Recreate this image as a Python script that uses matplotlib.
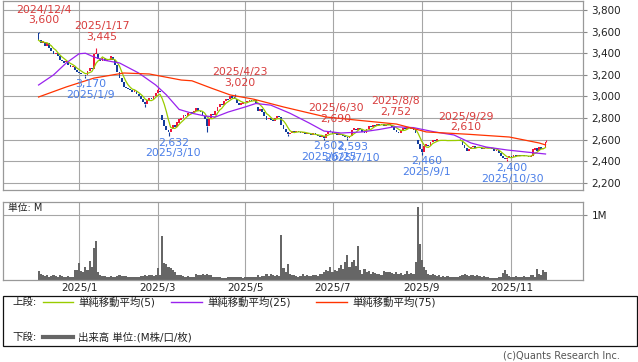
import matplotlib
matplotlib.use("Agg")
import matplotlib.pyplot as plt
from matplotlib.patches import Rectangle
from matplotlib.lines import Line2D
import numpy as np
import pandas as pd

plt.rcParams['font.family'] = ['DejaVu Sans', 'Noto Sans CJK JP']

# ---------------- data ----------------
start_date = "2024-12-04"
end_date = "2025-11-27"
holidays = ["2024-12-31", "2025-01-01", "2025-01-02", "2025-01-03", "2025-01-13",
            "2025-02-11", "2025-02-24", "2025-03-20", "2025-04-29", "2025-05-05",
            "2025-05-06", "2025-07-21", "2025-08-11", "2025-09-15", "2025-09-23",
            "2025-10-13", "2025-11-03", "2025-11-24"]

opens = [
    3590, 3520, 3490, 3500, 3470, 3490, 3450, 3420, 3390, 3400,
    3370, 3340, 3330, 3315, 3320, 3290, 3270, 3275, 3245, 3230,
    3220, 3205, 3200, 3195, 3240, 3260, 3250, 3390, 3395, 3350,
    3330, 3355, 3325, 3345, 3340, 3365, 3340, 3290, 3230, 3170,
    3130, 3090, 3080, 3070, 3060, 3040, 3055, 3020, 3000, 2980,
    2950, 2930, 2965, 2985, 2975, 3000, 3030, 3050, 2830, 2780,
    2730, 2690, 2670, 2700, 2735, 2720, 2755, 2785, 2800, 2830,
    2820, 2850, 2860, 2850, 2870, 2890, 2870, 2860, 2820, 2790,
    2730, 2790, 2840, 2830, 2870, 2900, 2930, 2920, 2955, 2980,
    2975, 3000, 2995, 2980, 2940, 2920, 2935, 2950, 2945, 2960,
    2970, 2960, 2965, 2900, 2870, 2880, 2860, 2820, 2790, 2800,
    2780, 2770, 2800, 2820, 2810, 2740, 2700, 2670, 2650, 2660,
    2680, 2670, 2685, 2670, 2660, 2670, 2655, 2660, 2650, 2645,
    2660, 2640, 2635, 2625, 2630, 2620, 2650, 2680, 2670, 2650,
    2660, 2645, 2655, 2640, 2630, 2625, 2615, 2630, 2690, 2700,
    2690, 2710, 2700, 2670, 2660, 2700, 2725, 2715, 2740, 2730,
    2740, 2735, 2745, 2730, 2740, 2735, 2740, 2720, 2690, 2670,
    2665, 2690, 2710, 2700, 2715, 2720, 2700, 2690, 2600, 2560,
    2510, 2490, 2540, 2555, 2545, 2580, 2600, 2590, 2600, 2585,
    2590, 2600, 2590, 2595, 2585, 2590, 2600, 2595, 2600, 2590,
    2550, 2520, 2500, 2510, 2530, 2540, 2525, 2535, 2520, 2510,
    2525, 2530, 2520, 2525, 2515, 2500, 2505, 2480, 2450, 2430,
    2420, 2430, 2445, 2440, 2455, 2445, 2460, 2450, 2455, 2445,
    2450, 2440, 2450, 2505, 2520, 2500, 2530, 2510, 2520]

closes = [
    3520, 3490, 3510, 3470, 3495, 3450, 3420, 3390, 3400, 3370,
    3340, 3330, 3310, 3325, 3290, 3270, 3280, 3245, 3230, 3220,
    3205, 3210, 3190, 3240, 3260, 3250, 3390, 3400, 3350, 3330,
    3360, 3325, 3350, 3340, 3370, 3340, 3290, 3230, 3170, 3130,
    3090, 3080, 3070, 3060, 3040, 3060, 3020, 3000, 2980, 2950,
    2930, 2970, 2985, 2975, 3000, 3030, 3060, 3040, 2780, 2730,
    2690, 2670, 2700, 2740, 2720, 2760, 2790, 2800, 2830, 2820,
    2850, 2860, 2850, 2870, 2890, 2870, 2860, 2820, 2790, 2730,
    2790, 2840, 2830, 2870, 2900, 2930, 2920, 2960, 2980, 2970,
    3000, 2990, 2980, 2940, 2920, 2940, 2950, 2945, 2960, 2970,
    2960, 2965, 2940, 2870, 2880, 2860, 2820, 2780, 2800, 2780,
    2770, 2800, 2820, 2810, 2740, 2700, 2670, 2650, 2660, 2680,
    2670, 2685, 2670, 2660, 2670, 2655, 2660, 2650, 2645, 2660,
    2640, 2635, 2625, 2640, 2620, 2650, 2680, 2670, 2650, 2660,
    2645, 2655, 2640, 2630, 2625, 2615, 2630, 2690, 2710, 2690,
    2710, 2700, 2670, 2660, 2700, 2730, 2715, 2740, 2730, 2745,
    2735, 2745, 2730, 2740, 2735, 2740, 2720, 2690, 2670, 2665,
    2690, 2710, 2700, 2715, 2720, 2700, 2690, 2660, 2560, 2510,
    2490, 2540, 2560, 2545, 2580, 2600, 2590, 2605, 2585, 2590,
    2600, 2590, 2595, 2585, 2590, 2600, 2595, 2600, 2590, 2550,
    2520, 2500, 2510, 2530, 2540, 2525, 2535, 2520, 2510, 2525,
    2530, 2520, 2525, 2515, 2500, 2505, 2480, 2450, 2430, 2420,
    2430, 2450, 2440, 2455, 2445, 2460, 2450, 2455, 2445, 2450,
    2440, 2450, 2510, 2520, 2500, 2530, 2510, 2520, 2580]

# wick extremes (index: price)
wick_highs = {0: 3600, 27: 3445, 56: 3080, 92: 3020, 137: 2690, 165: 2752,
              198: 2610, 238: 2595}
wick_lows = {22: 3170, 50: 2900, 61: 2632, 79: 2670, 117: 2630, 134: 2602,
             145: 2593, 180: 2460, 220: 2400}

high_labels = [0, 27, 92, 137, 165, 198]
low_labels = [22, 61, 134, 145, 180, 220]

# moving averages (index: value)
ma25_idx = [0, 7, 13, 19, 22, 26, 31, 35, 38, 47, 55, 60, 66, 72, 78, 83, 89, 97,
            102, 109, 118, 127, 134, 142, 152, 160, 167, 176, 186, 195, 203, 210,
            220, 229, 238]
ma25_val = [3106, 3199, 3310, 3395, 3400, 3365, 3335, 3320, 3310, 3217, 3106, 3015,
            2880, 2845, 2820, 2810, 2856, 2903, 2935, 2920, 2845, 2755, 2680, 2662,
            2672, 2695, 2720, 2712, 2672, 2644, 2570, 2533, 2505, 2486, 2468]
ma75_idx = [0, 13, 26, 32, 40, 52, 67, 72, 81, 90, 101, 115, 135, 149, 168, 182,
            202, 221, 235, 238]
ma75_val = [2995, 3088, 3170, 3190, 3217, 3208, 3152, 3145, 3078, 3014, 2975, 2903,
            2810, 2782, 2745, 2672, 2650, 2625, 2570, 2552]

volumes = [
    0.14, 0.09, 0.08, 0.06, 0.07, 0.05, 0.06, 0.08, 0.06, 0.05,
    0.07, 0.06, 0.05, 0.04, 0.06, 0.05, 0.05, 0.15, 0.15, 0.26,
    0.14, 0.12, 0.20, 0.15, 0.29, 0.20, 0.50, 0.60, 0.13, 0.08,
    0.06, 0.06, 0.05, 0.05, 0.06, 0.05, 0.05, 0.06, 0.08, 0.06,
    0.06, 0.06, 0.05, 0.05, 0.05, 0.04, 0.05, 0.05, 0.06, 0.06,
    0.07, 0.06, 0.07, 0.07, 0.06, 0.07, 0.19, 0.08, 0.68, 0.26,
    0.24, 0.20, 0.18, 0.15, 0.12, 0.08, 0.07, 0.07, 0.06, 0.05,
    0.06, 0.05, 0.05, 0.05, 0.10, 0.07, 0.08, 0.09, 0.08, 0.10,
    0.08, 0.07, 0.05, 0.05, 0.04, 0.04, 0.03, 0.03, 0.03, 0.04,
    0.04, 0.05, 0.04, 0.04, 0.05, 0.04, 0.03, 0.04, 0.04, 0.05,
    0.04, 0.05, 0.04, 0.07, 0.05, 0.06, 0.06, 0.09, 0.06, 0.10,
    0.07, 0.06, 0.08, 0.06, 0.69, 0.18, 0.12, 0.25, 0.10, 0.08,
    0.07, 0.06, 0.05, 0.06, 0.09, 0.06, 0.07, 0.06, 0.06, 0.08,
    0.07, 0.06, 0.09, 0.10, 0.12, 0.15, 0.14, 0.20, 0.13, 0.16,
    0.14, 0.18, 0.23, 0.17, 0.28, 0.38, 0.20, 0.28, 0.31, 0.22,
    0.52, 0.15, 0.10, 0.17, 0.12, 0.14, 0.10, 0.13, 0.11, 0.09,
    0.10, 0.08, 0.14, 0.13, 0.12, 0.12, 0.11, 0.09, 0.13, 0.10,
    0.11, 0.08, 0.10, 0.14, 0.09, 0.11, 0.09, 0.28, 1.13, 0.55,
    0.31, 0.20, 0.15, 0.10, 0.08, 0.09, 0.07, 0.06, 0.07, 0.05,
    0.06, 0.05, 0.06, 0.05, 0.04, 0.04, 0.05, 0.05, 0.06, 0.08,
    0.09, 0.07, 0.06, 0.08, 0.07, 0.06, 0.07, 0.06, 0.05, 0.06,
    0.05, 0.04, 0.03, 0.03, 0.03, 0.03, 0.04, 0.05, 0.11, 0.15,
    0.10, 0.06, 0.05, 0.05, 0.06, 0.05, 0.05, 0.05, 0.06, 0.05,
    0.05, 0.07, 0.08, 0.05, 0.17, 0.10, 0.07, 0.15, 0.13]

month_labels = ["2025/1", "2025/3", "2025/5", "2025/7", "2025/9", "2025/11"]
price_ticks = [2200, 2400, 2600, 2800, 3000, 3200, 3400, 3600, 3800]

# ---------------- derived ----------------
dates = pd.bdate_range(start_date, end_date)
dates = dates[~dates.isin(pd.to_datetime(holidays))]
n = len(closes)
dates = dates[:n]
x = np.arange(n)
o = np.array(opens, dtype=float)
c = np.array(closes, dtype=float)

month_pos = []
for lab in month_labels:
    y_, m_ = lab.split("/")
    mask = (dates.year == int(y_)) & (dates.month == int(m_))
    month_pos.append(int(np.argmax(mask)))

RED = "#f0143c"
BLUE = "#123c9c"
C_MA5 = "#99cc00"
C_MA25 = "#9922ee"
C_MA75 = "#ff3300"
GRID = "#a6a6a6"
TXT_RED = "#d83c3c"
TXT_BLUE = "#4a7ee8"

W, H = 638, 362
fig = plt.figure(figsize=(W / 100, H / 100), dpi=100)


def fbox(l, t, r, b):
    return [l / W, 1 - b / H, (r - l) / W, (b - t) / H]


ax = fig.add_axes(fbox(3, 1, 583, 190))
axv = fig.add_axes(fbox(3, 202, 583, 280))

# ---------------- price panel ----------------
up = c >= o
body_b = np.minimum(o, c)
body_h = np.maximum(np.abs(c - o), 7)
cols = np.where(up, RED, BLUE)
for i, v in wick_highs.items():
    ax.vlines(i, max(o[i], c[i]), v, color=cols[i], lw=0.8, zorder=2)
for i, v in wick_lows.items():
    ax.vlines(i, v, min(o[i], c[i]), color=cols[i], lw=0.8, zorder=2)
ax.bar(x, body_h, bottom=body_b, width=0.85, color=cols, linewidth=0, zorder=2)

ma5 = pd.Series(c).rolling(5, min_periods=1).mean()
ax.plot(x, ma5, color=C_MA5, lw=0.9, zorder=3)
ax.plot(ma25_idx, ma25_val, color=C_MA25, lw=0.9, zorder=3)
ax.plot(ma75_idx, ma75_val, color=C_MA75, lw=0.9, zorder=3)

ax.set_xlim(-16.7, 255.6)
ax.set_ylim(2135, 3883)
ax.set_yticks(price_ticks)
ax.set_yticklabels([f"{v:,}" for v in price_ticks])
ax.yaxis.tick_right()
ax.set_xticks(month_pos)
ax.set_xticklabels([])
ax.tick_params(axis='x', length=0)
ax.tick_params(axis='y', length=3, width=0.8, color="#888888", pad=3,
               labelsize=7.5, labelcolor="#222222")
ax.grid(True, color=GRID, lw=0.8)
ax.set_axisbelow(True)
for s in ax.spines.values():
    s.set_color("#999999")
    s.set_linewidth(0.9)


def dlabel(i):
    d = dates[i]
    return f"{d.year}/{d.month}/{d.day}"


for i in high_labels:
    v = wick_highs[i]
    ax.annotate(f"{dlabel(i)}\n{v:,}", xy=(i, v), xytext=(4, 4.5),
                textcoords="offset points", ha="center", va="bottom",
                color=TXT_RED, fontsize=7.8, linespacing=1.1, zorder=5)
for i in low_labels:
    v = wick_lows[i]
    ax.annotate(f"{v:,}\n{dlabel(i)}", xy=(i, v), xytext=(3.5, -1),
                textcoords="offset points", ha="center", va="top",
                color=TXT_BLUE, fontsize=7.8, linespacing=1.1, zorder=5)

# ---------------- volume panel ----------------
axv.bar(x, volumes, width=1.0, color="#666666", linewidth=0, zorder=2)
axv.set_xlim(-16.7, 255.6)
axv.set_ylim(0, 1.2)
axv.set_yticks([1])
axv.set_yticklabels(["1M"])
axv.yaxis.tick_right()
axv.set_xticks(month_pos)
axv.set_xticklabels(month_labels)
axv.tick_params(axis='x', length=0, pad=2, labelsize=7.5, labelcolor="#222222")
axv.tick_params(axis='y', length=3, width=0.8, color="#888888", pad=3,
                labelsize=7.5, labelcolor="#222222")
axv.grid(True, color=GRID, lw=0.8)
axv.set_axisbelow(True)
for s in axv.spines.values():
    s.set_color("#999999")
    s.set_linewidth(0.9)
axv.text(5 / 580, 1 - 6 / 78, "単位: M", transform=axv.transAxes, ha="left",
         va="center", fontsize=7, color="#222222")

# ---------------- legend box ----------------
def fp(px, py):
    return (px / W, 1 - py / H)


l0, t0 = fp(3, 296)
l1, t1 = fp(637, 346)
fig.add_artist(Rectangle((l0, t1), l1 - l0, t0 - t1, transform=fig.transFigure,
                         fill=False, ec="#111111", lw=0.9))

y1 = 302
y2 = 337
fig.text(*fp(12, y1), "上段:", fontsize=7.5, va="center", ha="left", color="#222222")
for (xa, xb, col, lab) in [(43, 73, C_MA5, "単純移動平均(5)"),
                           (171, 202, C_MA25, "単純移動平均(25)"),
                           (316, 347, C_MA75, "単純移動平均(75)")]:
    fig.add_artist(Line2D([xa / W, xb / W], [1 - y1 / H, 1 - y1 / H],
                          transform=fig.transFigure, color=col, lw=1.0))
    fig.text(*fp(xb + 5, y1), lab, fontsize=7.5, va="center", ha="left", color="#222222")

fig.text(*fp(12, y2), "下段:", fontsize=7.5, va="center", ha="left", color="#222222")
fig.add_artist(Line2D([43 / W, 73 / W], [1 - y2 / H, 1 - y2 / H],
                      transform=fig.transFigure, color="#666666", lw=3))
fig.text(*fp(78, y2), "出来高 単位:(M株/口/枚)", fontsize=7.5, va="center", ha="left",
         color="#222222")

fig.text(*fp(620, 356), "(c)Quants Research Inc.", fontsize=7, va="center",
         ha="right", color="#555555")

fig.savefig("out.png", dpi=100)
